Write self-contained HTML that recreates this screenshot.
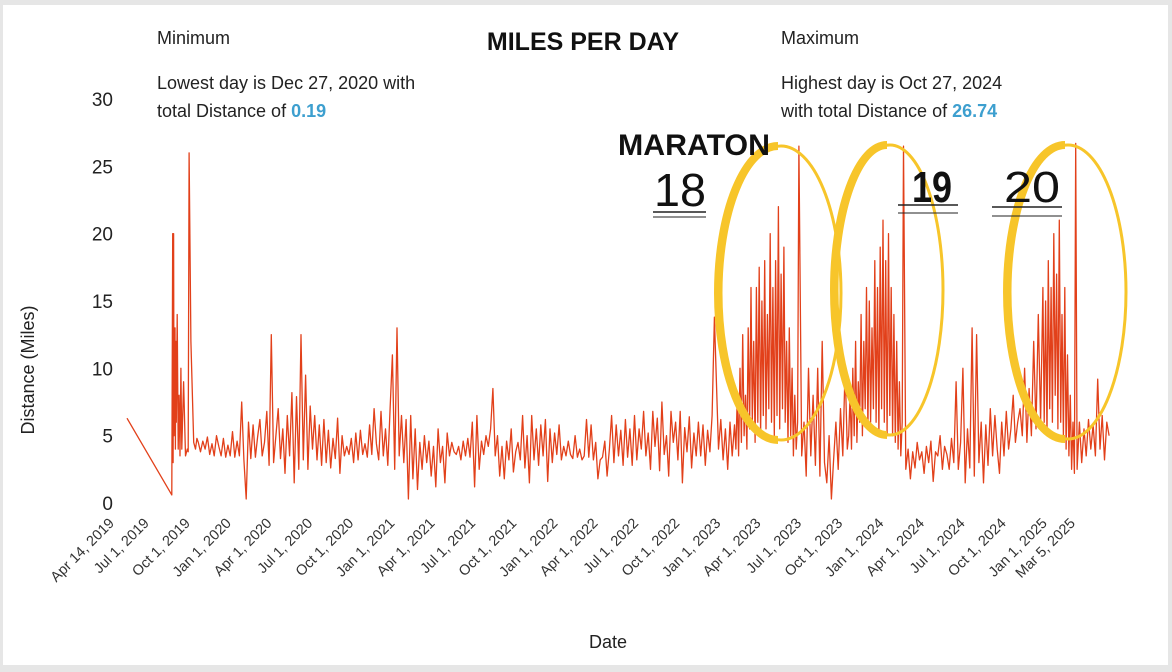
<!DOCTYPE html>
<html><head><meta charset="utf-8">
<style>
html,body{margin:0;padding:0;background:#e6e6e6;}
#frame{position:absolute;left:3px;top:5px;width:1165px;height:660px;background:#fff;}
svg{position:absolute;left:0;top:0;}
text{font-family:"Liberation Sans","DejaVu Sans",sans-serif;}
</style></head>
<body>
<div id="frame"></div>
<svg id="chart" width="1172" height="672">
  <text x="583" y="50" text-anchor="middle" font-size="25" font-weight="bold" fill="#111">MILES PER DAY</text>
  <text x="157" y="44" font-size="18" fill="#222">Minimum</text>
  <text x="157" y="89" font-size="18" fill="#222">Lowest day is Dec 27, 2020 with</text>
  <text x="157" y="117" font-size="18" fill="#222">total Distance of <tspan fill="#3d9fcf" font-weight="bold">0.19</tspan></text>
  <text x="781" y="44" font-size="18" fill="#222">Maximum</text>
  <text x="781" y="89" font-size="18" fill="#222">Highest day is Oct 27, 2024</text>
  <text x="781" y="117" font-size="18" fill="#222">with total Distance of <tspan fill="#3d9fcf" font-weight="bold">26.74</tspan></text>
  <text transform="translate(34,370) rotate(-90)" text-anchor="middle" font-size="18" fill="#222">Distance (Miles)</text>
  <text x="608" y="648" text-anchor="middle" font-size="18" fill="#222">Date</text>
  <g id="yticks"></g>
  <g id="xticks"></g>
  <path id="line" fill="none" stroke="#e2401a" stroke-width="1.3" stroke-linejoin="round"></path>
  <g>
    <ellipse cx="781" cy="293" rx="60" ry="147" fill="none" stroke="#f7c52a" stroke-width="3"/>
    <path d="M781,146 A60,147 0 0,0 781,440" fill="none" stroke="#f7c52a" stroke-width="8" transform="translate(-3,0)"/>
    <ellipse cx="890" cy="290" rx="53" ry="145" fill="none" stroke="#f7c52a" stroke-width="3"/>
    <path d="M890,145 A53,145 0 0,0 890,435" fill="none" stroke="#f7c52a" stroke-width="8" transform="translate(-3,0)"/>
    <ellipse cx="1068" cy="292" rx="58" ry="147" fill="none" stroke="#f7c52a" stroke-width="3"/>
    <path d="M1068,145 A58,147 0 0,0 1068,439" fill="none" stroke="#f7c52a" stroke-width="8" transform="translate(-3,0)"/>
    <text x="618" y="155" font-size="30" font-weight="bold" fill="#111" textLength="152" lengthAdjust="spacingAndGlyphs">MARATON</text>
    <text x="654" y="206" font-size="46" fill="#111" textLength="52" lengthAdjust="spacingAndGlyphs">18</text>
    <line x1="653" y1="212" x2="706" y2="212" stroke="#222" stroke-width="1.5"/>
    <line x1="653" y1="217" x2="706" y2="217" stroke="#222" stroke-width="1"/>
    <text x="912" y="202" font-size="44" font-weight="bold" fill="#111" textLength="40" lengthAdjust="spacingAndGlyphs">19</text>
    <line x1="898" y1="205" x2="958" y2="205" stroke="#222" stroke-width="1.5"/>
    <line x1="898" y1="213" x2="958" y2="213" stroke="#222" stroke-width="1"/>
    <text x="1004" y="202" font-size="44" fill="#111" textLength="56" lengthAdjust="spacingAndGlyphs">20</text>
    <line x1="992" y1="207" x2="1062" y2="207" stroke="#222" stroke-width="1.5"/>
    <line x1="992" y1="216" x2="1062" y2="216" stroke="#222" stroke-width="1"/>
  </g>
</svg>
<script>
// y axis ticks
const yTickValues = [0, 5, 10, 15, 20, 25, 30];
// x axis tick labels and their day offsets from Apr 14, 2019
const xTickLabels = ["Apr 14, 2019","Jul 1, 2019","Oct 1, 2019","Jan 1, 2020","Apr 1, 2020","Jul 1, 2020","Oct 1, 2020","Jan 1, 2021","Apr 1, 2021","Jul 1, 2021","Oct 1, 2021","Jan 1, 2022","Apr 1, 2022","Jul 1, 2022","Oct 1, 2022","Jan 1, 2023","Apr 1, 2023","Jul 1, 2023","Oct 1, 2023","Jan 1, 2024","Apr 1, 2024","Jul 1, 2024","Oct 1, 2024","Jan 1, 2025","Mar 5, 2025"];
const xTickDays = [0,78,170,262,353,444,536,628,718,809,901,993,1083,1174,1266,1358,1448,1539,1631,1723,1814,1905,1997,2089,2152];

// Series: segments of (start day, step days, values)
const segStarts = [0, 156, 1295, 1333, 1477, 1580, 1705, 2008, 2080];
const segSteps = [0, 5, 5, 3, 5, 3, 5, 3, 5];
const seg0Days = [0,98,100,101,102,103,104,105,106,107,108,110,112,114,116,118,120,124,128,132,134,136,140,146,150,153];
const seg0Values = [6.3,0.6,20,3,20,5,10,13,4,12,6,14,4,8,3.5,10,4,9,3.5,4,3.8,26,12,4.5,4,4.8];
const seg1Values = [4.5,3.8,4.6,4,4.9,3.6,4.4,3.5,5,4.2, 3.5,4.8,3.4,4.3,3.5,5.3,3.4,4.6,3.5,7.5, 3.2,0.3,6,3.3,5.8,3.4,4.9,6.2,3.5,4.5, 6.8,2.8,12.5,3,5,7,3.3,5.5,2.2,6.5, 3.5,8.2,1.5,7.9,2.5,12.5,3.2,9.5,2.5,7.2, 4,6.5,3.2,5.8,2.8,6.2,3,5.4,2.6,4.8, 3.3,6.3,2.2,5,3.5,4.2,3.6,4.8,3,5.2, 3.2,5.4,3.6,4.4,3.4,5.8,3.6,7,4.4,3.2, 6.8,3.5,5.5,2.8,7,11,2.5,13,3.5,6.5, 3,6.2,0.3,6.5,1.8,5.5,1,4.5,2.5,5, 3,4.6,2,4.2,1.2,5.5,3,4.2,1.5,5.2, 3.5,4.5,3.8,3.6,4.2,3.2,4.6,3.5,4.8,3.4, 6,1.2,6.5,2.5,4.6,3.6,5,4.2,5.5,8.5, 3.5,5,2,4.2,1.8,4.6,3.2,5.5,2.3,3.8, 4.5,3.2,6.5,2.6,5,1.5,6.5,3.2,5.5,2.8, 5.8,3.5,6.2,1.6,5.5,3,5.2,3.6,5.8,3.2, 4.2,3.5,4.6,3.6,3.3,5,3.4,4,3.2,3.5, 6.2,3.4,5.8,3.2,4.5,1.8,3.2,3.4,4.6,2, 4,6.5,3,5.8,3.5,5.4,2.8,6.2,3.4,5.5, 2.8,6.5,3.2,5.5,4,6.8,3.5,5.2,2.5,6.8, 4.2,6.3,2.4,7.5,3.6,5,2,6.8,4.5,6, 3.2,6.8,1.5,5.6,3.8,6.4,2.6,5.2,3.5,6, 3.5,5.8,2.8,5.4,3.8,6.5,13.8];
const seg2Values = [4,6.2,3.2,5.5,2.5,6,3.5,5.8];
const seg3Values = [4,8,3.5,10,4.5,12.5,5,8,4,13,5.5,16,6,12,4.5,16,6,17.5,5,15,6.5,18,5.5,14,7,20,6,16,5,18,6.5,22,5.5,17,7,19,6,12,4.5,13,5,10,3.5,8,4,6,26.5];
const seg4Values = [3.5,6,2,10,3.5,8,2.8,10,2,12,3,1.5,5,0.3,3.2,6,2.5,7,3.5,10,4];
const seg5Values = [5,8,4,10,5,12,4.5,9,6,14,5,12,7,16,5.5,15,6,13,7,18,6,16,5,19,7,21,6,18,5,20,6.5,16,5,14,4.5,12,4,9,3.5,6,26.5];
const seg6Values = [2.5,4,1.8,3.8,2.6,4.5,3.2,3.8,2.2,4.2, 3,4.6,1.6,3.8,3.5,5,2.5,4.2,3.6,2.5, 4.8,3,9,2.5,4.5,10,1.5,5.5,2.6,13, 2,12.5,3,6,1.5,5.8,2.8,7,3.5,6.5, 4,2.2,6,3.5,6.8,4,5.5,8,4.5,6, 7,5,10,4.5,8.5,5,12,5.5,14,6,16];
const seg7Values = [6,15,5,18,7,16,6,20,8,17,5.5,21,6,14,5,16,4,11,3.5,8,2.5,6,2.2,26.7];
const seg8Values = [2.5,6,3,5.5,3.5,6.2,4,5.8,3.5,9.2,4,6.5,3.2,6,5];

const NS = "http://www.w3.org/2000/svg";
const X0 = 127, X1 = 1110, DAYMAX = 2152;
const Y0 = 503, Y1 = 99, YMAX = 30;
function xScale(d){ return X0 + (d / DAYMAX) * (X1 - X0); }
function yScale(v){ return Y0 - (v / YMAX) * (Y0 - Y1); }
function labelX(d){ return 115 + (d / DAYMAX) * 961; }

const yg = document.getElementById('yticks');
yTickValues.forEach(v => {
  const t = document.createElementNS(NS, 'text');
  t.setAttribute('x', 113);
  t.setAttribute('y', yScale(v) + 7);
  t.setAttribute('text-anchor', 'end');
  t.setAttribute('font-size', '19');
  t.setAttribute('fill', '#222');
  t.textContent = v;
  
  
  yg.appendChild(t);
});

const xg = document.getElementById('xticks');
xTickLabels.forEach((lab, i) => {
  const t = document.createElementNS(NS, 'text');
  const x = labelX(xTickDays[i]), y = 524;
  t.setAttribute('transform', 'translate(' + x + ',' + y + ') rotate(-45)');
  t.setAttribute('text-anchor', 'end');
  t.setAttribute('font-size', '14.5');
  t.setAttribute('fill', '#333');
  t.textContent = lab;
  
  
  xg.appendChild(t);
});

const segValues = [seg0Values, seg1Values, seg2Values, seg3Values, seg4Values, seg5Values, seg6Values, seg7Values, seg8Values];
const pts = [];
segValues.forEach((vals, s) => {
  vals.forEach((v, i) => {
    const d = s === 0 ? seg0Days[i] : segStarts[s] + i * segSteps[s];
    pts.push([xScale(d), yScale(v)]);
  });
});
document.getElementById('line').setAttribute('d', pts.map((p, i) => (i ? 'L' : 'M') + p[0].toFixed(1) + ',' + p[1].toFixed(1)).join(''));
</script>
</body></html>
